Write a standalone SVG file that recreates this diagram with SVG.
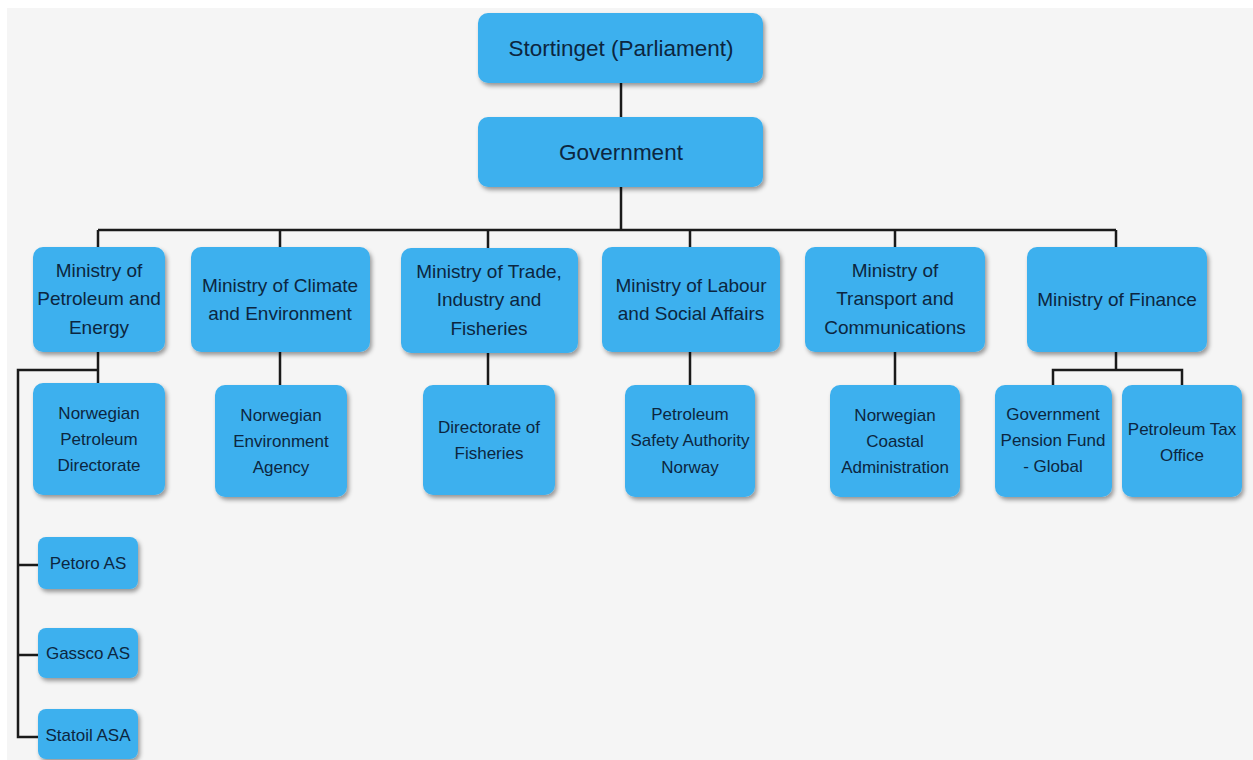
<svg xmlns="http://www.w3.org/2000/svg" width="1253" height="760" viewBox="0 0 1253 760">
  <defs>
    <filter id="shadow" x="-10%" y="-10%" width="130%" height="140%">
      <feDropShadow dx="2" dy="3" stdDeviation="2" flood-color="#000" flood-opacity="0.38"/>
    </filter>
    <style>
      .box { fill: #3eb0ee; filter: url(#shadow); }
      .lbl { font-family: "Liberation Sans", Arial, sans-serif; fill: #0c2640; text-anchor: middle; dominant-baseline: central; }
      .top { font-size: 22.5px; }
      .min { font-size: 19px; }
      .sub { font-size: 17px; }
      .conn { stroke: #1a1a1a; stroke-width: 2.5; fill: none; }
    </style>
  </defs>

  <!-- page -->
  <rect x="0" y="0" width="1253" height="760" fill="#ffffff"/>
  <rect x="7" y="8" width="1246" height="752" fill="#f5f5f5"/>

  <!-- connectors -->
  <g id="connectors" class="conn">
    <path d="M621 83 V117"/>
    <path d="M621 187 V230"/>
    <path d="M98 230 H1116"/>
    <path d="M98 230 V247 M280 230 V247 M488 230 V248 M690 230 V247 M895 230 V247 M1116 230 V247"/>
    <!-- petroleum branch -->
    <path d="M98 352 V383"/>
    <path d="M98 370 H18 V737 H38"/>
    <path d="M18 565 H38 M18 655 H38"/>
    <!-- ministry to agency -->
    <path d="M280 352 V385 M488 353 V385 M690 352 V385 M895 352 V385"/>
    <!-- finance branch -->
    <path d="M1116 352 V370 M1053 385 V370 H1182 V385"/>
  </g>

  <g id="stortinget">
    <rect class="box" x="478" y="13" width="285" height="70" rx="10"/>
    <text class="lbl top" x="621" y="48">Stortinget (Parliament)</text>
  </g>
  <g id="government">
    <rect class="box" x="478" y="117" width="285" height="70" rx="10"/>
    <text class="lbl top" x="621" y="152">Government</text>
  </g>

  <g id="min-petroleum">
    <rect class="box" x="33" y="247" width="132" height="105" rx="10"/>
    <text class="lbl min" x="99" y="270">Ministry of</text>
    <text class="lbl min" x="99" y="298">Petroleum and</text>
    <text class="lbl min" x="99" y="327">Energy</text>
  </g>
  <g id="min-climate">
    <rect class="box" x="191" y="247" width="179" height="105" rx="10"/>
    <text class="lbl min" x="280" y="285">Ministry of Climate</text>
    <text class="lbl min" x="280" y="313">and Environment</text>
  </g>
  <g id="min-trade">
    <rect class="box" x="401" y="248" width="177" height="105" rx="10"/>
    <text class="lbl min" x="489" y="271">Ministry of Trade,</text>
    <text class="lbl min" x="489" y="299">Industry and</text>
    <text class="lbl min" x="489" y="328">Fisheries</text>
  </g>
  <g id="min-labour">
    <rect class="box" x="602" y="247" width="178" height="105" rx="10"/>
    <text class="lbl min" x="691" y="285">Ministry of Labour</text>
    <text class="lbl min" x="691" y="313">and Social Affairs</text>
  </g>
  <g id="min-transport">
    <rect class="box" x="805" y="247" width="180" height="105" rx="10"/>
    <text class="lbl min" x="895" y="270">Ministry of</text>
    <text class="lbl min" x="895" y="298">Transport and</text>
    <text class="lbl min" x="895" y="327">Communications</text>
  </g>
  <g id="min-finance">
    <rect class="box" x="1027" y="247" width="180" height="105" rx="10"/>
    <text class="lbl min" x="1117" y="299">Ministry of Finance</text>
  </g>

  <g id="npd">
    <rect class="box" x="33" y="383" width="132" height="112" rx="10"/>
    <text class="lbl sub" x="99" y="413">Norwegian</text>
    <text class="lbl sub" x="99" y="439">Petroleum</text>
    <text class="lbl sub" x="99" y="465">Directorate</text>
  </g>
  <g id="nea">
    <rect class="box" x="215" y="385" width="132" height="112" rx="10"/>
    <text class="lbl sub" x="281" y="415">Norwegian</text>
    <text class="lbl sub" x="281" y="441">Environment</text>
    <text class="lbl sub" x="281" y="467">Agency</text>
  </g>
  <g id="fisheries-dir">
    <rect class="box" x="423" y="385" width="132" height="110" rx="10"/>
    <text class="lbl sub" x="489" y="427">Directorate of</text>
    <text class="lbl sub" x="489" y="453">Fisheries</text>
  </g>
  <g id="psa">
    <rect class="box" x="625" y="385" width="130" height="112" rx="10"/>
    <text class="lbl sub" x="690" y="414">Petroleum</text>
    <text class="lbl sub" x="690" y="440">Safety Authority</text>
    <text class="lbl sub" x="690" y="467">Norway</text>
  </g>
  <g id="coastal">
    <rect class="box" x="830" y="385" width="130" height="112" rx="10"/>
    <text class="lbl sub" x="895" y="415">Norwegian</text>
    <text class="lbl sub" x="895" y="441">Coastal</text>
    <text class="lbl sub" x="895" y="467">Administration</text>
  </g>
  <g id="pension-fund">
    <rect class="box" x="995" y="385" width="117" height="112" rx="10"/>
    <text class="lbl sub" x="1053" y="414">Government</text>
    <text class="lbl sub" x="1053" y="440">Pension Fund</text>
    <text class="lbl sub" x="1053" y="466">- Global</text>
  </g>
  <g id="petroleum-tax">
    <rect class="box" x="1122" y="385" width="120" height="112" rx="10"/>
    <text class="lbl sub" x="1182" y="429">Petroleum Tax</text>
    <text class="lbl sub" x="1182" y="455">Office</text>
  </g>

  <g id="petoro">
    <rect class="box" x="38" y="537" width="100" height="52" rx="8"/>
    <text class="lbl sub" x="88" y="563">Petoro AS</text>
  </g>
  <g id="gassco">
    <rect class="box" x="38" y="628" width="100" height="50" rx="8"/>
    <text class="lbl sub" x="88" y="653">Gassco AS</text>
  </g>
  <g id="statoil">
    <rect class="box" x="38" y="709" width="100" height="50" rx="8"/>
    <text class="lbl sub" x="88" y="735">Statoil ASA</text>
  </g>
</svg>
